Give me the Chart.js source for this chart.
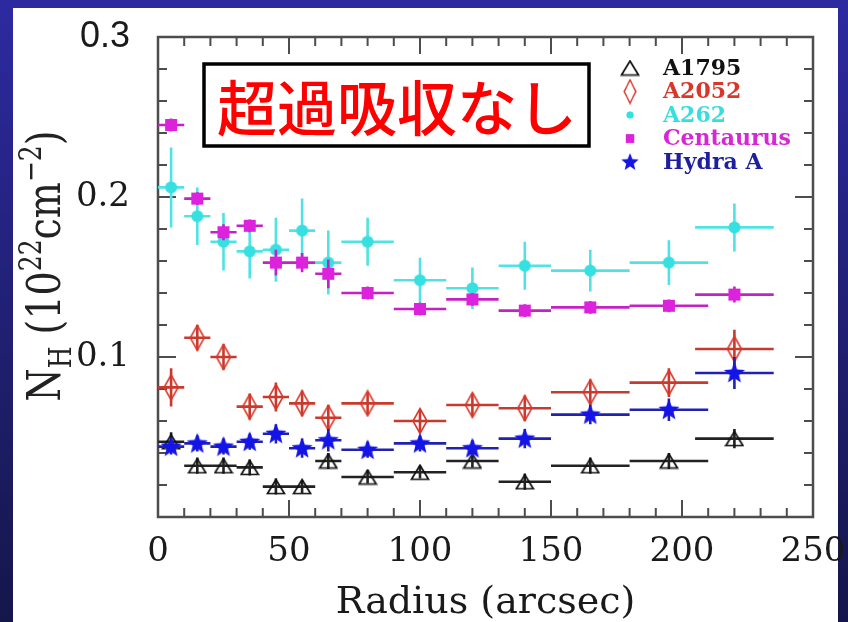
<!DOCTYPE html>
<html>
<head>
<meta charset="utf-8">
<script src="https://cdn.jsdelivr.net/npm/chart.js@4.4.0/dist/chart.umd.min.js"></script>
<style>
  html, body { margin: 0; padding: 0; }
  body {
    width: 848px; height: 622px; overflow: hidden;
    background: linear-gradient(to bottom, #2d2aa0, #15164a);
  }
  #c { position: absolute; left: 0; top: 0; }
</style>
</head>
<body>
<canvas id="c" width="848" height="622"></canvas>
<script>
// radius bins (arcsec) and half widths
const radius    = [5, 15, 25, 35, 45, 55, 65, 80, 100, 120, 140, 165, 195, 220];
const radiusErr = [5, 5, 5, 5, 5, 5, 5, 10, 10, 10, 10, 15, 15, 15];

// N_H in 1e22 cm^-2
const a1795        = [0.047, 0.032, 0.032, 0.031, 0.019, 0.019, 0.035, 0.025, 0.028, 0.035, 0.022, 0.032, 0.035, 0.049];
const a1795Err     = [0.006, 0.005, 0.005, 0.005, 0.005, 0.004, 0.005, 0.004, 0.004, 0.004, 0.005, 0.005, 0.005, 0.006];
const a2052        = [0.081, 0.112, 0.100, 0.069, 0.075, 0.071, 0.062, 0.071, 0.060, 0.070, 0.068, 0.078, 0.084, 0.105];
const a2052Err     = [0.012, 0.008, 0.008, 0.008, 0.009, 0.008, 0.008, 0.007, 0.007, 0.007, 0.008, 0.008, 0.009, 0.012];
const a262         = [0.206, 0.188, 0.172, 0.166, 0.167, 0.179, 0.159, 0.172, 0.148, 0.143, 0.157, 0.154, 0.159, 0.181];
const a262Err      = [0.025, 0.018, 0.018, 0.017, 0.020, 0.020, 0.020, 0.015, 0.014, 0.013, 0.015, 0.013, 0.014, 0.015];
const centaurus    = [0.245, 0.199, 0.178, 0.182, 0.159, 0.159, 0.152, 0.140, 0.130, 0.136, 0.129, 0.131, 0.132, 0.139];
const centaurusErr = [0.004, 0.004, 0.005, 0.004, 0.008, 0.006, 0.009, 0.004, 0.004, 0.004, 0.004, 0.004, 0.004, 0.005];
const hydraA       = [0.044, 0.046, 0.044, 0.047, 0.052, 0.043, 0.048, 0.042, 0.046, 0.043, 0.049, 0.064, 0.067, 0.090];
const hydraAErr    = [0.005, 0.005, 0.005, 0.005, 0.006, 0.006, 0.007, 0.005, 0.005, 0.005, 0.006, 0.006, 0.007, 0.010];

const seriesNames = ['A1795', 'A2052', 'A262', 'Centaurus', 'Hydra A'];

// axis ticks
const xTickMarks = [10, 20, 30, 40, 50, 60, 70, 80, 90, 100, 110, 120, 130, 140, 150, 160, 170, 180, 190, 200, 210, 220, 230, 240];
const xMajor = [50, 100, 150, 200];
const yTickMarks = [0.02, 0.04, 0.06, 0.08, 0.1, 0.12, 0.14, 0.16, 0.18, 0.2, 0.22, 0.24, 0.26, 0.28];
const yMajor = [0.1, 0.2];

// marker images
function mk(w, h, draw) {
  const c = document.createElement('canvas');
  c.width = w; c.height = h;
  draw(c.getContext('2d'));
  return c;
}
const triMark = mk(20, 17, g => {
  g.strokeStyle = '#111'; g.lineWidth = 1.7;
  g.beginPath(); g.moveTo(10, 1.5); g.lineTo(18.5, 15.5); g.lineTo(1.5, 15.5); g.closePath(); g.stroke();
});
const diaMark = mk(18, 28, g => {
  g.strokeStyle = '#d8372a'; g.lineWidth = 1.6;
  g.beginPath(); g.moveTo(9, 1.5); g.lineTo(16, 14); g.lineTo(9, 26.5); g.lineTo(2, 14); g.closePath(); g.stroke();
});
const dotMark = mk(13, 13, g => {
  g.fillStyle = '#36e0e0'; g.beginPath(); g.arc(6.5, 6.5, 6, 0, Math.PI * 2); g.fill();
});
const sqMark = mk(14, 14, g => {
  g.fillStyle = '#dd22dd'; g.fillRect(1, 1, 12, 12);
});
const starMark = mk(24, 24, g => {
  g.fillStyle = '#1414e6'; g.beginPath();
  for (let k = 0; k < 10; k++) {
    const a = -Math.PI / 2 + k * Math.PI / 5, r = k % 2 ? 4.8 : 11;
    g.lineTo(12 + r * Math.cos(a), 12.5 + r * Math.sin(a));
  }
  g.closePath(); g.fill();
});

function pts(vals, errs) {
  return radius.map((r, i) => ({ x: r, y: vals[i], xErr: radiusErr[i], yErr: errs[i] }));
}

const errorBars = {
  id: 'errorBars',
  beforeDatasetDraw(chart, args) {
    const ds = chart.data.datasets[args.index];
    const { ctx, scales: { x, y } } = chart;
    ctx.save();
    ctx.strokeStyle = ds.errColor;
    ctx.lineWidth = 2.6;
    ctx.beginPath();
    ds.data.forEach(p => {
      const cx = x.getPixelForValue(p.x), cy = y.getPixelForValue(p.y);
      ctx.moveTo(x.getPixelForValue(p.x - p.xErr), cy);
      ctx.lineTo(x.getPixelForValue(p.x + p.xErr), cy);
      ctx.moveTo(cx, y.getPixelForValue(p.y - p.yErr));
      ctx.lineTo(cx, y.getPixelForValue(p.y + p.yErr));
    });
    ctx.stroke();
    ctx.restore();
  }
};

const backdrop = {
  id: 'backdrop',
  beforeDraw(chart) {
    const ctx = chart.ctx;
    ctx.save();
    ctx.fillStyle = '#ffffff';
    ctx.fillRect(13, 8, 825, 614);
    ctx.restore();
  }
};

// frame with inward ticks on all four sides
const frame = {
  id: 'frame',
  beforeDatasetsDraw(chart) {
    const { ctx, chartArea: a, scales: { x, y } } = chart;
    ctx.save();
    ctx.strokeStyle = '#4d4d4d';
    ctx.lineWidth = 2;
    ctx.beginPath();
    xTickMarks.forEach(v => {
      const px = x.getPixelForValue(v);
      const len = xMajor.includes(v) ? 17 : 9;
      ctx.moveTo(px, a.bottom); ctx.lineTo(px, a.bottom - len);
      ctx.moveTo(px, a.top); ctx.lineTo(px, a.top + len);
    });
    yTickMarks.forEach(v => {
      const py = y.getPixelForValue(v);
      const len = yMajor.some(m => Math.abs(m - v) < 1e-9) ? 18 : 9;
      ctx.moveTo(a.left, py); ctx.lineTo(a.left + len, py);
      ctx.moveTo(a.right, py); ctx.lineTo(a.right - len, py);
    });
    ctx.stroke();
    ctx.lineWidth = 2.5;
    ctx.strokeRect(a.left, a.top, a.right - a.left, a.bottom - a.top);
    ctx.restore();
  }
};

const yTitle = {
  id: 'yTitle',
  afterDraw(chart) {
    const ctx = chart.ctx;
    const parts = [['N', 38, 0], ['H', 25, 9], [' (10', 38, 0], ['22', 25, -15], ['cm', 38, 0], ['\u22122', 25, -15], [')', 38, 0]];
    ctx.save();
    ctx.translate(30, 266);
    ctx.rotate(-Math.PI / 2);
    ctx.scale(1, 1.25);
    ctx.fillStyle = '#222';
    ctx.textBaseline = 'alphabetic';
    let total = 0;
    parts.forEach(p => { ctx.font = p[1] + 'px "DejaVu Serif"'; total += ctx.measureText(p[0]).width; });
    let px = -total / 2;
    parts.forEach(p => {
      ctx.font = p[1] + 'px "DejaVu Serif"';
      ctx.fillText(p[0], px, 24 + p[2]);
      px += ctx.measureText(p[0]).width;
    });
    ctx.restore();
  }
};

const overlay = {
  id: 'overlay',
  afterDraw(chart) {
    const ctx = chart.ctx;
    ctx.save();
    // note box
    ctx.fillStyle = '#ffffff';
    ctx.fillRect(204, 64, 385, 82);
    ctx.strokeStyle = '#000';
    ctx.lineWidth = 3.5;
    ctx.strokeRect(204, 64, 385, 82);
    ctx.fillStyle = '#ff0000';
    ctx.font = '500 60px "Noto Sans CJK JP"';
    ctx.textAlign = 'center';
    ctx.textBaseline = 'middle';
    ctx.fillText('超過吸収なし', 397, 108);

    // legend
    const marks = [triMark, diaMark, dotMark, sqMark, starMark];
    const sizes = [[20, 17], [15, 26], [8, 8], [10, 10], [20, 20]];
    const colors = ['#111111', '#d8372a', '#36dede', '#d626d6', '#1f1f9e'];
    ctx.textAlign = 'left';
    ctx.font = 'bold 22px "DejaVu Serif"';
    seriesNames.forEach((name, i) => {
      const yy = 68 + i * 23.5;
      const [w, h] = sizes[i];
      ctx.drawImage(marks[i], 630 - w / 2, yy - h / 2, w, h);
      ctx.fillStyle = colors[i];
      ctx.fillText(name, 663, yy + 1);
    });
    ctx.restore();
  }
};

new Chart(document.getElementById('c'), {
  type: 'scatter',
  data: {
    datasets: [
      { label: seriesNames[0], data: pts(a1795, a1795Err), pointStyle: triMark, errColor: '#222222', order: 4 },
      { label: seriesNames[1], data: pts(a2052, a2052Err), pointStyle: diaMark, errColor: '#c93a2e', order: 3 },
      { label: seriesNames[2], data: pts(a262, a262Err), pointStyle: dotMark, errColor: '#4fe3e3', order: 2 },
      { label: seriesNames[3], data: pts(centaurus, centaurusErr), pointStyle: sqMark, errColor: '#c522c5', order: 1 },
      { label: seriesNames[4], data: pts(hydraA, hydraAErr), pointStyle: starMark, errColor: '#2222b0', order: 0 }
    ]
  },
  options: {
    responsive: false,
    animation: false,
    devicePixelRatio: 1,
    layout: { padding: { top: 37, right: 35, left: 0, bottom: 0 } },
    elements: { point: { radius: 6, hoverRadius: 6 } },
    plugins: { legend: { display: false }, tooltip: { enabled: false } },
    scales: {
      x: {
        type: 'linear', min: 0, max: 250,
        grid: { display: false, drawTicks: false },
        border: { display: false },
        ticks: { stepSize: 50, padding: 0, color: '#1a1a1a',
                 font: { family: 'DejaVu Serif', size: 34, lineHeight: 2.06 } },
        title: { display: true, text: 'Radius (arcsec)', color: '#1a1a1a', padding: 0,
                 font: { family: 'DejaVu Serif', size: 38, lineHeight: 1 } },
        afterFit: s => { s.height = 105; }
      },
      y: {
        type: 'linear', min: 0, max: 0.3,
        grid: { display: false, drawTicks: false },
        border: { display: false },
        ticks: {
          stepSize: 0.1, padding: 28, color: '#1a1a1a',
          callback: v => (v < 0.05 ? '' : v.toFixed(1)),
          font: c => (c.tick && c.tick.value > 0.25)
            ? { family: 'Liberation Sans', size: 36, lineHeight: 0.5 }
            : { family: 'DejaVu Serif', size: 34, lineHeight: 0.5 }
        },
        afterFit: s => { s.width = 158; }
      }
    }
  },
  plugins: [backdrop, frame, errorBars, yTitle, overlay]
});
</script>
</body>
</html>
